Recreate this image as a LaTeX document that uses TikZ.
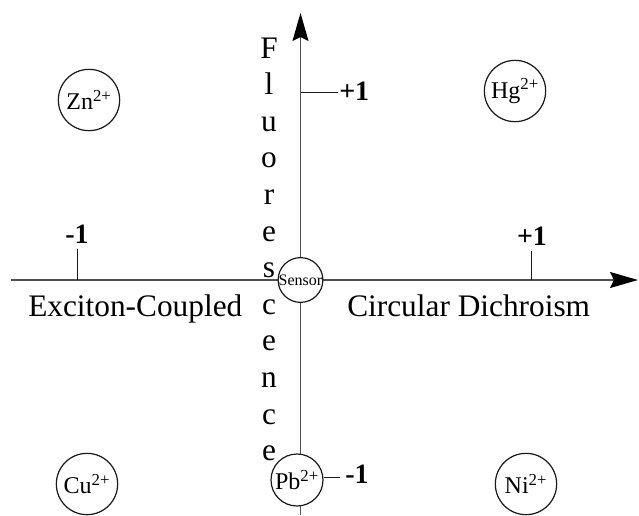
\documentclass[tikz,border=0pt]{standalone}
\usepackage{fontspec}
\setmainfont{Liberation Serif}
\usetikzlibrary{arrows.meta,calc,positioning}
\definecolor{AxisCol}{RGB}{80,80,80}
\definecolor{RuleCol}{RGB}{25,25,25}
\tikzset{
  fsaxis/.style={-{Stealth[length=21pt,width=12pt,inset=3pt,color=black]}, line width=1.1pt, draw=AxisCol},
  fstick/.style={line width=0.7pt, draw=RuleCol},
  fsbig/.style={font=\fontsize{23.5}{24}\selectfont, inner sep=0pt},
  fsnum/.style={font=\fontsize{21}{21}\selectfont\bfseries, inner sep=0pt},
  fsion/.style={circle, draw=RuleCol, line width=0.9pt, fill=white, minimum size=46pt, inner sep=0pt, font=\fontsize{18}{18}\selectfont},
  fshub/.style={circle, draw=RuleCol, line width=0.9pt, fill=white, minimum size=33pt, inner sep=0pt, font=\fontsize{12}{12}\selectfont}
}
\newcommand{\FSIon}[3]{%
  \node[fsion] (#1) at (#2) {#3\textsuperscript{2+}};
}

\begin{document}
\begin{tikzpicture}[x=0.75pt,y=-0.75pt]
  \useasboundingbox (0,0) rectangle (639,515);
  % axes
  \coordinate (xs) at (11,280);
  \coordinate (xe) at (638,280);
  \coordinate (ys) at (300.5,515);
  \coordinate (ye) at (300.5,13);
  \draw[fsaxis] (xs) -- (xe);
  \draw[fsaxis] (ys) -- (ye);
  % ticks
  \coordinate (tl0) at (77,280);   \coordinate (tl1) at (77,249);
  \coordinate (tr0) at (531,280);  \coordinate (tr1) at (531,251);
  \coordinate (tu0) at (300.5,92); \coordinate (tu1) at (338,92);
  \draw[fstick] (tl0) -- (tl1);
  \draw[fstick] (tr0) -- (tr1);
  \draw[fstick] (tu0) -- (tu1);
  \node[fsnum,anchor=base] (ml) at (77,243) {-1};
  \node[fsnum,anchor=base] (pr) at (532,245) {+1};
  \node[fsnum,anchor=base west] (pu) at (339,100) {+1};
  % axis titles
  \node[fsbig,anchor=base west] (exc) at (28,316) {Exciton-Coupled};
  \node[fsbig,anchor=base west] (cd) at (347,316) {Circular Dichroism};
  \foreach \ch [count=\i] in {F,l,u,o,r,e,s,c,e,n,c,e}
    \node[fsbig,anchor=base] (fl\i) at (269,{58+(\i-1)*36.6}) {\ch};
  % sensor and ions
  \node[fshub] (sensor) at (300.5,280) {Sensor};
  \node[fsion,minimum size=39pt] (pb) at (297,480) {Pb\textsuperscript{2+}};
  \coordinate (td1) at (340,477);
  \draw[fstick] (pb.east |- td1) -- (td1);
  \node[fsnum,anchor=base west] (md) at (345,483) {-1};
  \FSIon{zn}{89,100}{Zn}
  \FSIon{hg}{515,91}{Hg}
  \FSIon{cu}{87,484}{Cu}
  \FSIon{ni}{526,484}{Ni}
\end{tikzpicture}
\end{document}
